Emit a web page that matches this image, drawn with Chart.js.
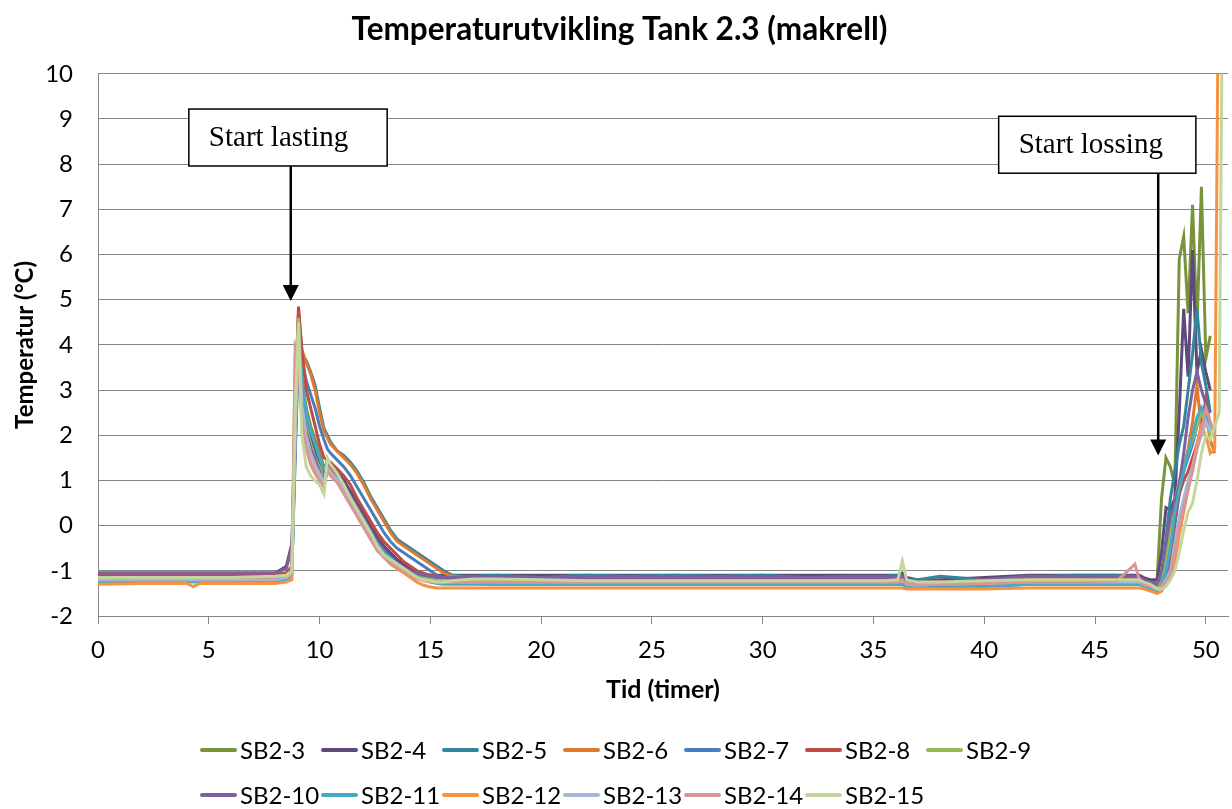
<!DOCTYPE html>
<html>
<head>
<meta charset="utf-8">
<script src="https://cdn.jsdelivr.net/npm/chart.js@4.4.1/dist/chart.umd.min.js"></script>
<style>
  body { margin: 0; background: #fff; }
  #wrap { position: relative; width: 1232px; height: 809px; }
  #legend {
    position: absolute; left: 200px; top: 727px;
    display: grid; grid-template-columns: repeat(7, 121px); grid-auto-rows: 45px;
    font-family: Lato, sans-serif; font-size: 24px; color: #000;
  }
  #legend .item { display: flex; align-items: center; white-space: nowrap; }
  #legend .line { width: 37px; height: 4px; margin-right: 3px; border-radius: 2px; }
</style>
</head>
<body>
<div id="wrap">
  <canvas id="chart"></canvas>
  <div id="legend"></div>
</div>
<script>
// time axis (hours)
var hours = [0, 2, 4, 4.3, 4.6, 6, 8, 8.5, 8.75, 8.9,
  9.05, 9.2, 9.4, 9.6, 9.8, 10.0, 10.2, 10.35, 10.5, 10.8,
  11.1, 11.4, 11.7, 12.0, 12.3, 12.6, 12.9, 13.2, 13.5, 13.8,
  14.1, 14.4, 14.7, 15.0, 15.3, 15.6, 16.0, 16.5, 17, 18,
  20, 22, 24, 26, 28, 30, 32, 34, 35.5, 36.1,
  36.3, 36.5, 37, 38, 40, 42, 44, 46, 46.8, 47.0,
  47.2, 47.5, 47.8, 48.0, 48.2, 48.4, 48.6, 48.8, 49.0, 49.2,
  49.4, 49.6, 49.8, 50.0, 50.2, 50.4, 50.6, 50.8];

var seriesNames = ["SB2-3", "SB2-4", "SB2-5", "SB2-6", "SB2-7", "SB2-8", "SB2-9",
  "SB2-10", "SB2-11", "SB2-12", "SB2-13", "SB2-14", "SB2-15"];
var seriesColors = ["#77933C", "#5F497A", "#31859C", "#DD7A30", "#4A7EBB", "#BE4B48", "#98B954",
  "#7D60A0", "#46AAC5", "#F69240", "#A7B7DA", "#D99694", "#C3D69B"];

var sb3 = [-1.1,-1.1,-1.1,-1.1,-1.1,-1.1,-1.08,-1.05,-0.95,2.5,
  4.75,3.3,2.6,2.2,1.9,1.6,1.3,1.35,1.3,1.15,
  0.95,0.7,0.45,0.2,-0.05,-0.3,-0.5,-0.65,-0.8,-0.9,
  -1.0,-1.05,-1.1,-1.12,-1.15,-1.15,-1.15,-1.15,-1.15,-1.15,
  -1.15,-1.15,-1.15,-1.15,-1.15,-1.15,-1.15,-1.15,-1.15,-1.15,
  -1.1,-1.2,-1.25,-1.25,-1.25,-1.2,-1.2,-1.2,-1.2,-1.2,
  -1.2,-1.25,-1.2,0.6,1.5,1.3,0.9,5.9,6.4,4.7,
  7.1,4.4,7.5,3.7,4.2,null,null,null];
var sb4 = [-1.05,-1.05,-1.05,-1.05,-1.05,-1.05,-1.05,-0.9,-0.4,2.0,
  4.2,3.0,2.4,2.0,1.7,1.35,1.1,1.45,1.35,1.2,
  1.0,0.75,0.5,0.25,0.0,-0.25,-0.45,-0.6,-0.75,-0.85,
  -0.95,-1.02,-1.08,-1.1,-1.1,-1.1,-1.1,-1.1,-1.1,-1.1,
  -1.1,-1.1,-1.1,-1.1,-1.1,-1.1,-1.1,-1.1,-1.1,-1.1,
  -1.05,-1.15,-1.2,-1.2,-1.15,-1.1,-1.1,-1.1,-1.1,-1.1,
  -1.15,-1.2,-1.2,-0.6,0.4,0.35,0.6,2.5,4.8,3.3,
  6.1,3.4,3.9,3.4,3.0,null,null,null];
var sb5 = [-1.2,-1.2,-1.2,-1.2,-1.2,-1.2,-1.2,-1.15,-1.0,1.5,
  4.0,3.8,3.65,3.4,3.1,2.6,2.15,2.0,1.85,1.65,
  1.55,1.4,1.2,0.95,0.65,0.4,0.15,-0.1,-0.3,-0.4,
  -0.5,-0.6,-0.7,-0.8,-0.9,-1.0,-1.1,-1.12,-1.12,-1.1,
  -1.15,-1.1,-1.12,-1.1,-1.12,-1.1,-1.15,-1.12,-1.12,-1.1,
  -1.1,-1.2,-1.2,-1.12,-1.2,-1.15,-1.1,-1.1,-1.15,-1.15,
  -1.2,-1.3,-1.3,-1.1,-0.3,0.6,1.2,1.8,2.2,3.0,
  3.8,4.8,3.6,3.1,2.5,null,null,null];
var sb6 = [-1.2,-1.2,-1.2,-1.2,-1.2,-1.2,-1.2,-1.15,-1.0,2.0,
  4.7,3.9,3.6,3.35,3.0,2.5,2.1,1.95,1.8,1.65,
  1.5,1.35,1.15,0.9,0.6,0.35,0.1,-0.15,-0.35,-0.45,
  -0.55,-0.65,-0.75,-0.85,-0.95,-1.05,-1.12,-1.15,-1.18,-1.2,
  -1.2,-1.2,-1.2,-1.2,-1.2,-1.2,-1.2,-1.2,-1.2,-1.2,
  -1.2,-1.3,-1.3,-1.3,-1.3,-1.25,-1.25,-1.25,-1.25,-1.25,
  -1.3,-1.35,-1.4,-1.3,-1.2,-0.5,0.2,0.8,1.3,1.7,
  2.3,3.1,2.1,2.5,1.9,1.6,null,null];
var sb7 = [-1.15,-1.15,-1.15,-1.15,-1.15,-1.15,-1.15,-1.1,-1.0,1.8,
  4.4,3.7,3.2,2.9,2.6,2.2,1.9,1.7,1.6,1.45,
  1.3,1.1,0.85,0.6,0.35,0.1,-0.15,-0.35,-0.5,-0.6,
  -0.7,-0.8,-0.9,-1.0,-1.1,-1.15,-1.2,-1.25,-1.28,-1.3,
  -1.3,-1.3,-1.3,-1.3,-1.3,-1.3,-1.3,-1.3,-1.3,-1.3,
  -1.3,-1.35,-1.35,-1.35,-1.35,-1.3,-1.3,-1.3,-1.3,-1.3,
  -1.3,-1.35,-1.4,-1.3,-1.1,-0.8,0.0,0.7,1.2,1.5,
  1.8,2.2,2.6,2.4,2.1,null,null,null];
var sb8 = [-1.1,-1.1,-1.1,-1.1,-1.1,-1.1,-1.1,-1.05,-0.9,2.8,
  4.85,3.9,3.0,2.6,2.2,1.8,1.5,1.45,1.4,1.25,
  1.1,0.9,0.6,0.35,0.1,-0.15,-0.35,-0.5,-0.65,-0.8,
  -0.9,-1.0,-1.05,-1.1,-1.12,-1.15,-1.15,-1.15,-1.15,-1.15,
  -1.15,-1.15,-1.15,-1.15,-1.15,-1.15,-1.15,-1.15,-1.15,-1.15,
  -1.15,-1.2,-1.25,-1.25,-1.2,-1.15,-1.15,-1.15,-1.15,-1.15,
  -1.2,-1.25,-1.3,-1.2,-1.0,-0.7,0.2,0.7,1.0,1.2,
  1.5,1.8,2.2,2.8,2.2,null,null,null];
var sb9 = [-1.15,-1.15,-1.15,-1.15,-1.15,-1.15,-1.15,-1.1,-1.0,2.6,
  4.6,3.0,2.2,1.8,1.5,1.3,1.05,1.25,1.15,1.0,
  0.8,0.55,0.3,0.05,-0.2,-0.45,-0.6,-0.75,-0.85,-0.95,
  -1.05,-1.1,-1.15,-1.18,-1.2,-1.22,-1.22,-1.22,-1.22,-1.22,
  -1.22,-1.22,-1.22,-1.22,-1.22,-1.22,-1.22,-1.22,-1.22,-1.22,
  -1.2,-1.28,-1.3,-1.3,-1.28,-1.22,-1.22,-1.22,-1.22,-1.22,
  -1.25,-1.3,-1.35,-1.25,-0.8,0.0,0.5,1.0,1.3,1.6,
  1.9,2.2,2.5,2.3,2.0,null,null,null];
var sb10 = [-1.05,-1.05,-1.05,-1.05,-1.05,-1.05,-1.05,-0.95,-0.5,1.8,
  4.0,2.8,2.1,1.7,1.45,1.2,0.95,1.4,1.3,1.1,
  0.9,0.65,0.4,0.15,-0.1,-0.35,-0.55,-0.7,-0.82,-0.92,
  -1.0,-1.06,-1.1,-1.12,-1.15,-1.15,-1.15,-1.15,-1.15,-1.15,
  -1.15,-1.15,-1.15,-1.15,-1.15,-1.15,-1.15,-1.15,-1.15,-1.15,
  -1.12,-1.2,-1.25,-1.25,-1.2,-1.12,-1.12,-1.12,-1.12,-1.15,
  -1.2,-1.25,-1.3,-1.0,-0.4,0.2,0.5,0.9,1.6,2.4,
  3.0,3.4,3.0,2.7,2.5,null,null,null];
var sb11 = [-1.25,-1.25,-1.25,-1.25,-1.25,-1.25,-1.25,-1.2,-1.1,2.2,
  4.4,3.2,2.5,2.1,1.8,1.5,1.25,1.3,1.2,1.05,
  0.85,0.6,0.35,0.1,-0.15,-0.4,-0.6,-0.72,-0.85,-0.95,
  -1.05,-1.12,-1.2,-1.25,-1.28,-1.3,-1.3,-1.3,-1.3,-1.3,
  -1.3,-1.3,-1.3,-1.3,-1.3,-1.3,-1.3,-1.3,-1.3,-1.3,
  -1.3,-1.35,-1.38,-1.38,-1.35,-1.3,-1.3,-1.3,-1.3,-1.3,
  -1.35,-1.4,-1.45,-1.3,-1.0,-0.5,0.3,0.8,1.2,1.6,
  2.0,2.4,2.6,2.4,2.1,null,null,null];
var sb12 = [-1.3,-1.28,-1.28,-1.35,-1.28,-1.28,-1.28,-1.25,-1.2,3.75,
  4.3,2.4,1.8,1.4,1.2,1.0,0.85,1.3,1.2,1.0,
  0.8,0.5,0.25,0.0,-0.25,-0.5,-0.7,-0.85,-0.95,-1.05,
  -1.15,-1.25,-1.32,-1.36,-1.38,-1.38,-1.38,-1.38,-1.38,-1.38,
  -1.38,-1.38,-1.38,-1.38,-1.38,-1.38,-1.38,-1.38,-1.38,-1.38,
  -1.38,-1.4,-1.4,-1.4,-1.4,-1.38,-1.38,-1.38,-1.38,-1.38,
  -1.4,-1.45,-1.5,-1.45,-1.3,-1.2,-0.8,-0.2,0.3,0.8,
  1.3,1.8,2.2,2.0,1.6,1.7,14,null];
var sb13 = [-1.2,-1.2,-1.2,-1.2,-1.2,-1.2,-1.2,-1.15,-1.05,2.0,
  4.3,2.7,2.0,1.6,1.35,1.15,0.95,1.25,1.15,1.0,
  0.75,0.5,0.25,0.0,-0.25,-0.5,-0.65,-0.78,-0.88,-0.98,
  -1.08,-1.15,-1.2,-1.22,-1.25,-1.25,-1.25,-1.25,-1.25,-1.25,
  -1.25,-1.25,-1.25,-1.25,-1.25,-1.25,-1.25,-1.25,-1.25,-1.25,
  -1.22,-1.3,-1.32,-1.3,-1.28,-1.25,-1.25,-1.25,-1.25,-1.25,
  -1.3,-1.35,-1.4,-1.35,-1.2,-1.0,-0.4,0.2,0.6,1.0,
  1.3,1.7,2.0,2.3,2.1,null,null,null];
var sb14 = [-1.15,-1.15,-1.15,-1.15,-1.15,-1.15,-1.15,-1.1,-1.0,3.9,
  3.6,2.3,1.7,1.35,1.15,1.0,0.85,1.2,1.1,0.95,
  0.7,0.45,0.2,-0.05,-0.3,-0.55,-0.7,-0.82,-0.92,-1.0,
  -1.1,-1.17,-1.22,-1.25,-1.25,-1.25,-1.25,-1.25,-1.25,-1.25,
  -1.25,-1.25,-1.25,-1.25,-1.25,-1.25,-1.25,-1.25,-1.25,-1.25,
  -1.2,-1.3,-1.3,-1.3,-1.28,-1.25,-1.25,-1.22,-0.85,-1.2,
  -1.3,-1.35,-1.4,-1.35,-1.25,-1.1,-0.6,0.0,0.4,0.8,
  1.2,1.7,2.1,2.6,2.3,2.0,null,null];
var sb15 = [-1.15,-1.15,-1.15,-1.15,-1.15,-1.15,-1.12,-1.1,-1.0,2.5,
  4.5,2.0,1.3,1.1,1.0,0.9,0.7,1.5,1.35,1.15,
  0.9,0.6,0.35,0.1,-0.15,-0.45,-0.65,-0.75,-0.85,-0.95,
  -1.05,-1.15,-1.2,-1.22,-1.25,-1.25,-1.22,-1.2,-1.18,-1.18,
  -1.2,-1.22,-1.22,-1.22,-1.22,-1.22,-1.22,-1.22,-1.22,-1.2,
  -0.78,-1.2,-1.25,-1.25,-1.22,-1.2,-1.2,-1.2,-1.2,-1.2,
  -1.25,-1.3,-1.4,-1.4,-1.35,-1.2,-1.0,-0.6,-0.1,0.3,
  0.5,1.0,1.6,2.0,1.9,2.2,2.5,15];

var seriesValues = [sb3, sb4, sb5, sb6, sb7, sb8, sb9, sb10, sb11, sb12, sb13, sb14, sb15];
var xTicks = [0, 5, 10, 15, 20, 25, 30, 35, 40, 45, 50];

// callout boxes, in data units
var notes = [
  {text: "Start lasting", x0: 4.1, x1: 13.05, yTop: 9.22, yBot: 7.96, ax: 8.7, tip: 4.97},
  {text: "Start lossing", x0: 40.65, x1: 49.55, yTop: 9.06, yBot: 7.8, ax: 47.85, tip: 1.55}
];

var datasets = [];
for (var i = 0; i < seriesNames.length; i++) {
  var pts = [];
  for (var j = 0; j < hours.length; j++) {
    pts.push({x: hours[j], y: seriesValues[i][j]});
  }
  datasets.push({
    label: seriesNames[i],
    data: pts,
    borderColor: seriesColors[i],
    backgroundColor: seriesColors[i],
    borderWidth: 3,
    pointRadius: 0,
    tension: 0,
    spanGaps: false,
    order: seriesNames.length - i   // later series on top, like Excel
  });
}

var calloutPlugin = {
  id: "callouts",
  afterDatasetsDraw: function(chart) {
    var ctx = chart.ctx, xs = chart.scales.x, ys = chart.scales.y;
    ctx.save();
    notes.forEach(function(n) {
      var l = xs.getPixelForValue(n.x0), r = xs.getPixelForValue(n.x1);
      var t = ys.getPixelForValue(n.yTop), b = ys.getPixelForValue(n.yBot);
      ctx.fillStyle = "#fff";
      ctx.fillRect(l, t, r - l, b - t);
      ctx.strokeStyle = "#000";
      ctx.lineWidth = 1.5;
      ctx.strokeRect(l, t, r - l, b - t);
      ctx.fillStyle = "#000";
      ctx.font = "29px 'Liberation Serif', 'Times New Roman', serif";
      ctx.textBaseline = "middle";
      ctx.fillText(n.text, l + 20, (t + b) / 2 + 1);
      // arrow
      var ax = xs.getPixelForValue(n.ax), tip = ys.getPixelForValue(n.tip);
      ctx.lineWidth = 2.5;
      ctx.beginPath();
      ctx.moveTo(ax, b);
      ctx.lineTo(ax, tip - 14);
      ctx.stroke();
      ctx.beginPath();
      ctx.moveTo(ax - 8, tip - 16);
      ctx.lineTo(ax + 8, tip - 16);
      ctx.lineTo(ax, tip);
      ctx.closePath();
      ctx.fill();
    });
    ctx.restore();
  }
};

var gridGray = "#868686";
var chart = new Chart(document.getElementById("chart"), {
  type: "line",
  data: {datasets: datasets},
  plugins: [calloutPlugin],
  options: {
    responsive: true,
    maintainAspectRatio: false,
    animation: false,
    devicePixelRatio: 1,
    layout: {padding: {left: 11, right: 4, top: 0, bottom: 104}},
    plugins: {
      legend: {display: false},
      tooltip: {enabled: false},
      title: {
        display: true,
        text: "Temperaturutvikling Tank 2.3 (makrell)",
        color: "#000",
        font: {family: "Lato", size: 31.5, weight: "bold"},
        padding: {top: 11, bottom: 25}
      }
    },
    scales: {
      x: {
        type: "linear",
        min: 0,
        max: 51,
        afterBuildTicks: function(scale) {
          scale.ticks = xTicks.map(function(v) { return {value: v}; });
        },
        afterFit: function(scale) { scale.height = 89; },
        grid: {drawOnChartArea: false, drawTicks: true, tickLength: 8, color: gridGray},
        border: {display: true, color: gridGray, width: 1},
        ticks: {color: "#000", font: {family: "Lato", size: 24}, padding: 12, maxRotation: 0, autoSkip: false},
        title: {display: true, text: "Tid (timer)", color: "#000",
          font: {family: "Lato", size: 25, weight: "bold"}, padding: 0}
      },
      y: {
        min: -2,
        max: 10,
        afterFit: function(scale) { scale.width = 87; },
        grid: {color: gridGray, lineWidth: 1, drawTicks: false},
        border: {display: true, color: gridGray, width: 1},
        ticks: {stepSize: 1, color: "#000", font: {family: "Lato", size: 24}, padding: 25},
        title: {display: true, text: "Temperatur (°C)", color: "#000",
          font: {family: "Lato", size: 24, weight: "bold"}, padding: 0}
      }
    }
  }
});

// legend laid out in a fixed grid like the original
var legend = document.getElementById("legend");
for (var k = 0; k < seriesNames.length; k++) {
  var item = document.createElement("div");
  item.className = "item";
  var line = document.createElement("span");
  line.className = "line";
  line.style.background = seriesColors[k];
  item.appendChild(line);
  item.appendChild(document.createTextNode(seriesNames[k]));
  legend.appendChild(item);
}
</script>
</body>
</html>
